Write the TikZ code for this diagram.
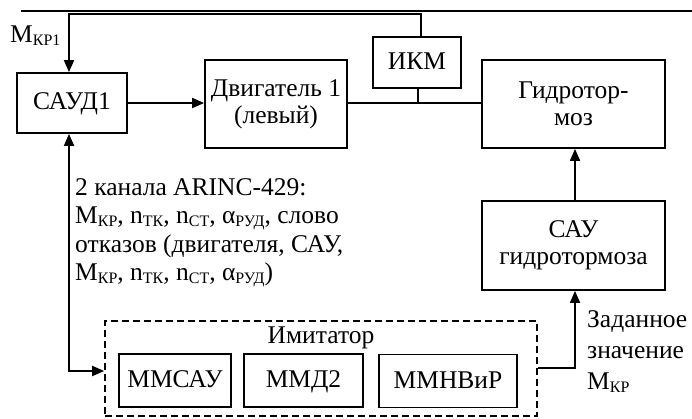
\documentclass[tikz,border=0pt]{standalone}
\usepackage{fontspec}
\setmainfont{Liberation Serif}
\usetikzlibrary{arrows.meta}
\newcommand{\sbs}[1]{\raisebox{-3pt}{\fontsize{16}{16}\selectfont #1}}
\begin{document}
\begin{tikzpicture}[x=1pt,y=-1pt,
  txt/.style={font=\fontsize{25.5}{27}\selectfont, inner sep=0pt},
  blk/.style={draw, line width=1.8pt, align=center, txt},
  one/.style={text height=17pt, text depth=3pt},
  ln/.style={line width=1.8pt},
  tip/.tip={Triangle[length=12pt,width=10pt]},
  arr/.style={ln, -tip},
  ]
\useasboundingbox (0,0) rectangle (692,419);
% blocks
\node[blk, one, minimum width=110pt, minimum height=60pt] (saud) at (72,103) {САУД1};
\node[blk, minimum width=142pt, minimum height=88pt] (dv) at (276,104) {Двигатель 1\\(левый)};
\node[blk, one, minimum width=88pt, minimum height=51pt] (ikm) at (417,62.5) {ИКМ};
\node[blk, minimum width=183pt, minimum height=88pt] (gt) at (573.5,104) {Гидротор-\\моз};
\node[blk, minimum width=183pt, minimum height=89pt] (sau) at (573.5,245.5) {САУ\\гидротормоза};
\node[draw, line width=1.6pt, dash pattern=on 7pt off 4pt, minimum width=432pt, minimum height=95pt, inner sep=0pt] (imit) at (321,368.5) {};
\node[txt] (imlab) at (321,338) {Имитатор};
\node[blk, one, minimum width=112pt, minimum height=53pt] (mmsau) at (175,380.5) {ММСАУ};
\node[blk, one, minimum width=119pt, minimum height=53pt] (mmd) at (303.5,380.5) {ММД2};
\node[blk, one, minimum width=138pt, minimum height=53pt] (mmn) at (448,381) {ММНВиР};
% connectors
\coordinate (tl) at (21,11);
\coordinate (tr) at (692,11);
\draw[line width=2pt] (tl) -- (tr);
\coordinate (j1) at (69,14);
\coordinate (j2) at (421,14);
\draw[arr] (j2 |- ikm.north) -- (j2) -- (j1) -- (j1 |- saud.north);
\draw[arr] (saud.east) -- (saud.east -| dv.west);
\coordinate (bus) at (418,103);
\draw[ln] (bus -| dv.east) -- (bus -| gt.west);
\draw[ln] (bus) -- (bus |- ikm.south);
\coordinate (c1) at (69,371);
\draw[ln, tip-tip] (c1 |- saud.south) -- (c1) -- (c1 -| imit.west);
\coordinate (vx) at (575,368);
\draw[arr] (vx |- sau.north) -- (vx |- gt.south);
\draw[arr] (vx -| imit.east) -- (vx) -- (vx |- sau.south);
% labels
\node[txt, anchor=base west] (mkr1) at (10,43) {M\sbs{КР1}};
\node[txt, anchor=base west] (ar1) at (75,196) {2 канала ARINC-429:};
\node[txt, anchor=base west] (ar2) at (75,224) {M\sbs{КР}, n\sbs{ТК}, n\sbs{СТ}, α\sbs{РУД}, слово};
\node[txt, anchor=base west] (ar3) at (75,252) {отказов (двигателя, САУ,};
\node[txt, anchor=base west] (ar4) at (75,280) {M\sbs{КР}, n\sbs{ТК}, n\sbs{СТ}, α\sbs{РУД})};
\node[txt, anchor=base west] (zd1) at (587,327) {Заданное};
\node[txt, anchor=base west] (zd2) at (587,358) {значение};
\node[txt, anchor=base west] (zd3) at (587,389) {M\sbs{КР}};
\end{tikzpicture}
\end{document}
